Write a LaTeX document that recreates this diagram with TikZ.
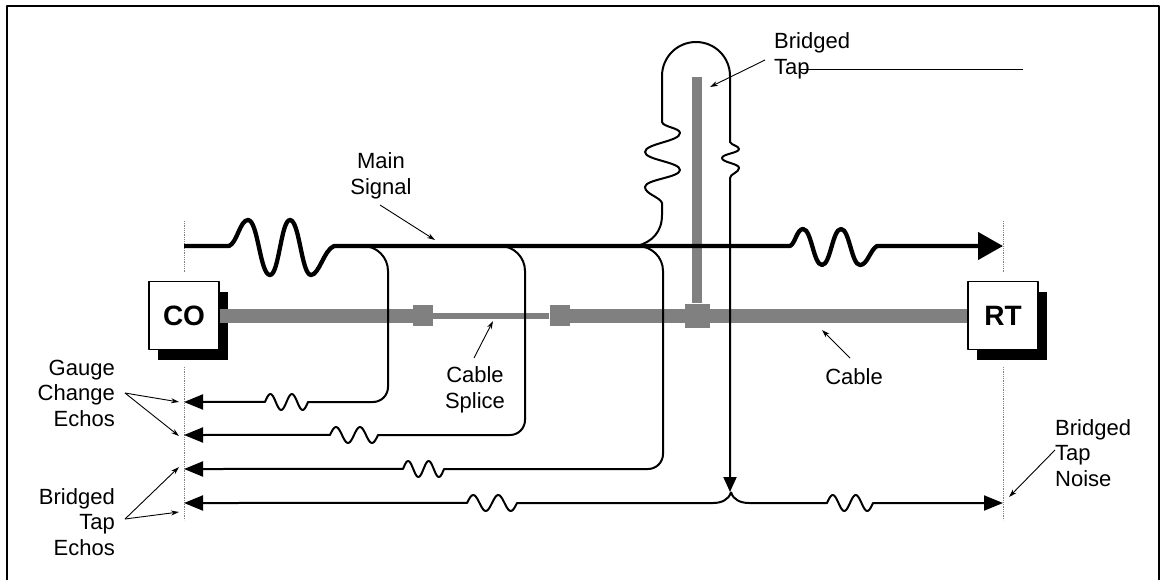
\documentclass[tikz,border=0pt]{standalone}
\usepackage{fontspec}
\setmainfont{Liberation Sans}
\usetikzlibrary{arrows.meta,shadows}
\definecolor{cablegray}{RGB}{128,128,128}
\begin{document}
\begin{tikzpicture}[x=1pt,y=-1pt,line join=round,
  lbl/.style={font=\fontsize{22}{25.5}\selectfont, inner sep=0pt},
  sig/.style={line width=4.3pt},
  echo/.style={line width=2pt},
  note/.style={line width=0.9pt,-{Stealth[length=8pt,width=5pt]}},
  dots/.style={densely dotted,line width=0.8pt,color=gray},
  boxnode/.style={draw,line width=1.5pt,fill=white,minimum width=70pt,minimum height=68pt,inner sep=0pt,
     font=\fontsize{28}{30}\selectfont\bfseries,
     general shadow={fill=black,shadow xshift=9pt,shadow yshift=-10pt}},
  cable/.style={line width=14pt,cablegray},
  splice/.style={fill=cablegray,inner sep=0pt,minimum width=20pt,minimum height=21pt},
  echotip/.style={-{Triangle[length=19pt,width=15pt]}},
  maintip/.style={-{Triangle[length=25pt,width=27pt]}}
]
\useasboundingbox (0,0) rectangle (1161,580);
% frame
\draw[line width=2pt] (7,580) -- (7,6) -- (1159,6) -- (1159,580);

% coordinates
\coordinate (sigL) at (184,246);
\coordinate (sigR) at (1003,246);
\coordinate (J) at (637,246);
\coordinate (taptop) at (697,77);
\coordinate (K) at (731,492);

% dotted reference lines
\draw[dots] (184,221) -- (184,272);
\draw[dots] (1003,221) -- (1003,272);
\draw[dots] (184,367) -- (184,520);
\draw[dots] (1003,367) -- (1003,520);

% cable and boxes
\node[boxnode] (co) at (184,315.5) {CO};
\node[boxnode] (rt) at (1003,315.5) {RT};
\node[splice] (sp1) at (423,315.5) {};
\node[splice] (sp2) at (559.5,315.5) {};
\node[fill=cablegray,inner sep=0pt,minimum width=25pt,minimum height=24pt] (tj) at (697,315.5) {};
\draw[cable] (co.east) -- (sp1.west);
\draw[cablegray,line width=6pt] (sp1.east) -- (sp2.west);
\draw[cable] (sp2.east) -- (rt.west);
\draw[cablegray,line width=10pt] (taptop) -- (tj.north);

% main signal
\draw[sig,maintip] (sigL) -- (229,246)
 .. controls (237,243) and (240,220) .. (248,220)
 .. controls (258,220) and (260,275) .. (270,275)
 .. controls (279,275) and (281,220) .. (290,220)
 .. controls (299.5,220) and (301.5,275) .. (311,275)
 .. controls (319,275) and (324,250) .. (334,246)
 -- (790,246)
 .. controls (795,244) and (797,229) .. (803,229)
 .. controls (811.5,229) and (813.5,265) .. (822,265)
 .. controls (830.5,265) and (832.5,229) .. (841,229)
 .. controls (849.5,229) and (851.5,265) .. (860,265)
 .. controls (867.5,265) and (870,250) .. (877,246)
 -- (sigR);

% bridged tap loop
\draw[echo,-{Triangle[length=15pt,width=13pt]}] (J)
 .. controls (652,242) and (662,232) .. (662,215) -- (662,203)
 .. controls (660,197) and (645,194) .. (645,187)
 .. controls (645,179.4) and (680,177.6) .. (680,170)
 .. controls (680,162) and (645,160) .. (645,152)
 .. controls (645,143.5) and (680,141.5) .. (680,133)
 .. controls (680,128) and (663,127) .. (662,122)
 -- (662,76)
 .. controls (662,57.2) and (677.2,42) .. (696,42)
 .. controls (714.8,42) and (730,57.2) .. (730,76)
 -- (730,142)
 .. controls (731,145) and (739,146) .. (739,149)
 .. controls (739,153) and (722,154) .. (722,158)
 .. controls (722,162.5) and (739,163.5) .. (739,168)
 .. controls (739,172.5) and (730,174) .. (730,178)
 -- (730,492);

% gauge change echo 1
\draw[echo,echotip] (363,246) .. controls (376.8,246) and (388,257.2) .. (388,271)
 -- (388,387) .. controls (388,395.3) and (381.3,402) .. (373,402)
 -- (308,402) -- plot[domain=0:2,samples=41] ({308-21.5*\x},{402+8*sin(360*\x)})
 -- (184,402);
% gauge change echo 2
\draw[echo,echotip] (500,246) .. controls (513.8,246) and (525,257.2) .. (525,271)
 -- (525,420) .. controls (525,428.3) and (518.3,435) .. (510,435)
 -- (378,435) -- plot[domain=0:2,samples=41] ({378-24*\x},{435+8*sin(360*\x)})
 -- (184,435);
% bridged tap echo 1
\draw[echo,echotip] (J) .. controls (651.8,246) and (663,257.2) .. (663,271)
 -- (663,454) .. controls (663,462.3) and (656.3,469) .. (648,469)
 -- (444,469) -- plot[domain=0:2,samples=41] ({444-20.5*\x},{469+8*sin(360*\x)})
 -- (184,469);
% bridged tap echo 2 (left)
\draw[echo,echotip] (K) .. controls (729,500) and (721,503) .. (713,503)
 -- (517,503) -- plot[domain=0:2,samples=41] ({517-25*\x},{503+8*sin(360*\x)})
 -- (184,503);
% bridged tap noise (right)
\draw[echo,echotip] (K) .. controls (733,500) and (741,503) .. (749,503)
 -- (827,503) -- plot[domain=0:2,samples=41] ({827+23*\x},{503-8*sin(360*\x)})
 -- (1003,503);

% labels
\node[lbl,align=center] (ms) at (381,176) {Main\\Signal};
\node[lbl,align=left,anchor=west] (bt) at (774,56) {Bridged\\Tap};
\node[lbl,align=center] (cs) at (475,390) {Cable\\Splice};
\node[lbl] (cb) at (854,377) {Cable};
\node[lbl,align=right,anchor=east] (gce) at (115,393) {Gauge\\Change\\Echos};
\node[lbl,align=right,anchor=east] (bte) at (115,522) {Bridged\\Tap\\Echos};
\node[lbl,align=left,anchor=west] (btn) at (1055,453) {Bridged\\Tap\\Noise};

% annotation arrows
\coordinate (msA) at (380,205); \coordinate (msB) at (435,240);
\draw[note] (msA) -- (msB);
\coordinate (btA) at (765,60); \coordinate (btB) at (710,87);
\draw[note] (btA) -- (btB);
\coordinate (btL1) at (800,69); \coordinate (btL2) at (1023,69);
\draw[line width=0.9pt] (btL1) -- (btL2);
\coordinate (csA) at (474,358); \coordinate (csB) at (493,321);
\draw[note] (csA) -- (csB);
\coordinate (cbA) at (850,358); \coordinate (cbB) at (822,330);
\draw[note] (cbA) -- (cbB);
\coordinate (gA) at (125,393);
\coordinate (g1) at (179,402); \coordinate (g2) at (179,436);
\draw[note] (gA) -- (g1);
\draw[note] (gA) -- (g2);
\coordinate (bA) at (125,519);
\coordinate (b1) at (179,467); \coordinate (b2) at (179,512);
\draw[note] (bA) -- (b1);
\draw[note] (bA) -- (b2);
\coordinate (nA) at (1055,450); \coordinate (nB) at (1009,497);
\draw[note] (nA) -- (nB);
\end{tikzpicture}
\end{document}
